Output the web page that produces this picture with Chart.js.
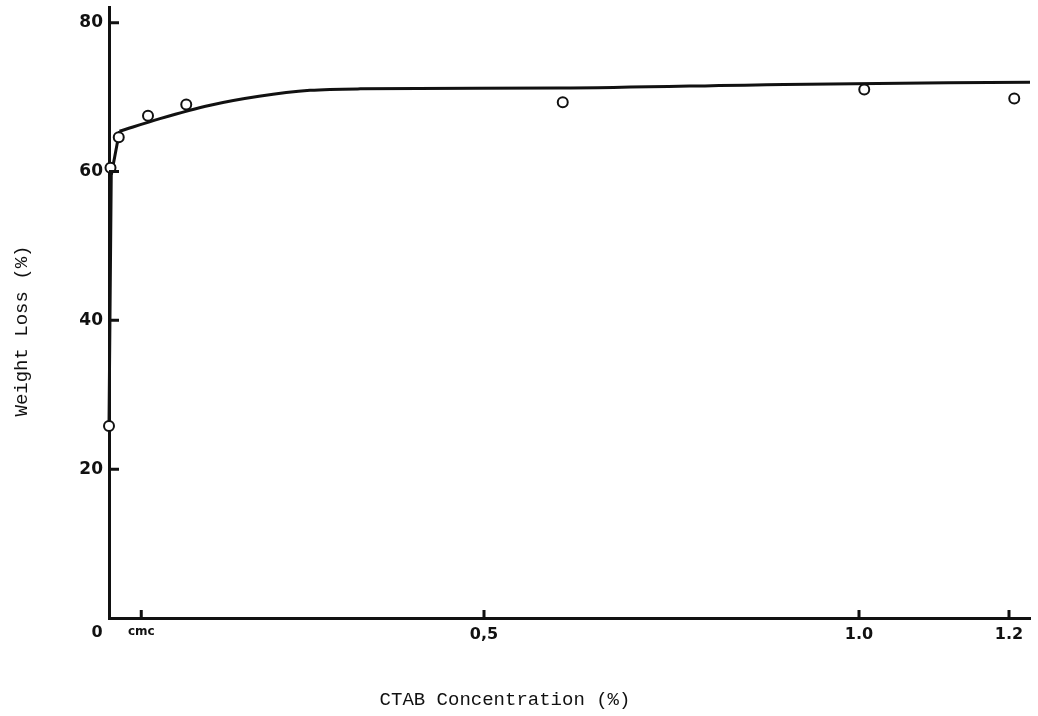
<!DOCTYPE html>
<html>
<head>
<meta charset="utf-8">
<title>CTAB Concentration vs Weight Loss</title>
<script src="https://cdn.jsdelivr.net/npm/chart.js@4/dist/chart.umd.min.js"></script>
<style>
  html, body { margin: 0; padding: 0; background: #fff; }
  #wrap { width: 1038px; height: 716px; position: relative; }
</style>
</head>
<body>
<div id="wrap"><canvas id="chart"></canvas></div>
<script>
// Measured weight loss (%) at each CTAB concentration (%)
const concentration = [0, 0.002, 0.013, 0.052, 0.103, 0.605, 1.007, 1.207];
const weightLoss    = [25.8, 60.5, 64.6, 67.5, 69.0, 69.3, 71.0, 69.8];

// Steep rise of the trend curve below the cmc
const riseX = [0, 0.003, 0.014];
const riseY = [26, 59.5, 65.4];

// Saturation part of the trend curve above the cmc
const plateauX = [0.014, 0.068, 0.135, 0.2, 0.268, 0.335, 0.6, 0.9, 1.228];
const plateauY = [65.4, 67.1, 68.9, 70.1, 70.9, 71.1, 71.2, 71.7, 72.0];

// Axis ticks
const xTickValues = [0.043, 0.5, 1.0, 1.2];
const xTickLabels = ['cmc', '0,5', '1.0', '1.2'];
const yTickValues = [20, 40, 60, 80];
const originLabel = '0';

const ink = '#111';
const tickFont = { family: 'DejaVu Sans', size: 16, weight: 'bold' };
const titleFont = '19px "Liberation Mono", "DejaVu Sans Mono", monospace';

// Short inward tick marks, origin label and axis titles
const axisDecor = {
  id: 'axisDecor',
  afterDraw(chart) {
    const ctx = chart.ctx;
    const xs = chart.scales.x, ys = chart.scales.y;
    const area = chart.chartArea;
    ctx.save();
    ctx.strokeStyle = ink;
    ctx.lineWidth = 3;
    ctx.beginPath();
    yTickValues.forEach(v => {
      const py = ys.getPixelForValue(v);
      ctx.moveTo(area.left, py);
      ctx.lineTo(area.left + 10, py);
    });
    xTickValues.forEach(v => {
      const px = xs.getPixelForValue(v);
      ctx.moveTo(px, area.bottom);
      ctx.lineTo(px, area.bottom - 8);
    });
    ctx.stroke();

    ctx.fillStyle = ink;
    ctx.font = 'bold 16px "DejaVu Sans"';
    ctx.textAlign = 'center';
    ctx.textBaseline = 'middle';
    ctx.fillText(originLabel, xs.getPixelForValue(0) - 12, area.bottom + 15);

    ctx.font = titleFont;
    ctx.fillText('CTAB Concentration (%)', 505, 700);
    ctx.translate(22, 331);
    ctx.rotate(-Math.PI / 2);
    ctx.fillText('Weight Loss (%)', 0, 0);
    ctx.restore();
  }
};

const curveStyle = {
  type: 'line',
  borderColor: ink,
  borderWidth: 3,
  pointRadius: 0,
  fill: false,
  clip: false,
  order: 2
};

new Chart(document.getElementById('chart'), {
  type: 'scatter',
  data: {
    datasets: [
      Object.assign({}, curveStyle, {
        label: 'rise',
        data: riseX.map((x, i) => ({ x, y: riseY[i] })),
        tension: 0
      }),
      Object.assign({}, curveStyle, {
        label: 'plateau',
        data: plateauX.map((x, i) => ({ x, y: plateauY[i] })),
        cubicInterpolationMode: 'monotone'
      }),
      {
        label: 'Weight Loss',
        data: concentration.map((x, i) => ({ x, y: weightLoss[i] })),
        pointRadius: 5,
        pointBorderWidth: 2,
        pointBorderColor: ink,
        pointBackgroundColor: '#fff',
        clip: false,
        order: 1
      }
    ]
  },
  options: {
    responsive: true,
    maintainAspectRatio: false,
    animation: false,
    layout: { padding: { left: 0, right: 8, top: 1, bottom: 0 } },
    plugins: {
      legend: { display: false },
      tooltip: { enabled: false }
    },
    scales: {
      x: {
        type: 'linear',
        min: 0,
        max: 1.228,
        afterFit(scale) {
          scale.height = 98;
          scale.paddingLeft = 0;
          scale.paddingRight = 0;
        },
        afterBuildTicks(scale) { scale.ticks = xTickValues.map(v => ({ value: v })); },
        ticks: {
          color: ink,
          padding: 7,
          maxRotation: 0,
          autoSkip: false,
          font: (c) => c.index === 0 ? { family: 'DejaVu Sans', size: 12, weight: 'bold' } : tickFont,
          callback: (v, i) => xTickLabels[i]
        },
        grid: { display: false, drawTicks: false },
        border: { display: true, color: ink, width: 3 }
      },
      y: {
        type: 'linear',
        min: 0,
        max: 82.1,
        afterFit(scale) {
          scale.width = 109;
          scale.paddingTop = 0;
          scale.paddingBottom = 0;
        },
        afterBuildTicks(scale) { scale.ticks = yTickValues.map(v => ({ value: v })); },
        ticks: {
          color: ink,
          padding: 6,
          autoSkip: false,
          font: { family: 'DejaVu Sans', size: 17, weight: 'bold' },
          callback: (v) => String(v)
        },
        grid: { display: false, drawTicks: false },
        border: { display: true, color: ink, width: 3 }
      }
    }
  },
  plugins: [axisDecor]
});
</script>
</body>
</html>
